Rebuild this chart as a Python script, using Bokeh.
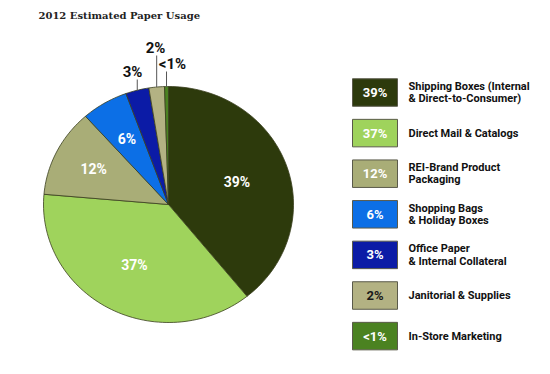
import numpy as np
from bokeh.plotting import figure
from bokeh.models import Range1d
from bokeh.embed import file_html
from bokeh.resources import INLINE
from bokeh.core.properties import value

# ---- data ----
categories = [
    "Shipping Boxes (Internal\n& Direct-to-Consumer)",
    "Direct Mail & Catalogs",
    "REI-Brand Product\nPackaging",
    "Shopping Bags\n& Holiday Boxes",
    "Office Paper\n& Internal Collateral",
    "Janitorial & Supplies",
    "In-Store Marketing",
]
shares = [39, 37, 12, 6, 3, 2, 0.5]
share_labels = ["39%", "37%", "12%", "6%", "3%", "2%", "<1%"]
colors = ["#2d3a0c", "#9fd35c", "#a9ad77", "#0c6fe6", "#0b1ba6", "#b3b283", "#4b8221"]
box_text_colors = ["white", "white", "white", "white", "white", "#1a1a1a", "white"]
title = "2012 Estimated Paper Usage"

W, H = 534, 358
p = figure(width=W, height=H, output_backend="svg", toolbar_location=None,
           x_range=Range1d(0, W), y_range=Range1d(H, 0),
           min_border=0, background_fill_color="white", border_fill_color="white")
p.axis.visible = False
p.grid.visible = False
p.outline_line_color = None

# ---- pie (slightly elliptical as in reference) ----
cx, cy, rx, ry = 168, 204, 125, 118
total = sum(shares)
start = np.pi / 2
xs, ys, mids = [], [], []
for s in shares:
    sweep = 2 * np.pi * s / total
    a = np.linspace(start, start - sweep, max(4, int(200 * s / total) + 4))
    xs.append([cx] + list(cx + rx * np.cos(a)))
    ys.append([cy] + list(cy - ry * np.sin(a)))
    mids.append(start - sweep / 2)
    start -= sweep
p.patches(xs, ys, fill_color=colors, line_color="#3a3f1e", line_width=0.8)

# inside labels
inside_r = [0.58, 0.58, 0.67, 0.65]
lx = [cx + rx * f * np.cos(m) for f, m in zip(inside_r, mids[:4])]
ly = [cy - ry * f * np.sin(m) for f, m in zip(inside_r, mids[:4])]
p.text(lx, ly, text=share_labels[:4], text_color="white", text_font=value("Roboto"),
       text_font_style="bold", text_font_size="14px", text_align="center",
       text_baseline="middle")

# outside labels with leader lines
out_idx = [4, 5, 6]
for i, (tx, ty) in zip(out_idx, [(132, 71), (155, 47), (172, 63)]):
    m = mids[i]
    ex = cx + rx * np.cos(m)
    ey = cy - ry * np.sin(m)
    p.line([ex, ex], [ey, ty + 8], line_color="#555555", line_width=1)
    p.text([tx], [ty], text=[share_labels[i]], text_color="#111111",
           text_font=value("Roboto"), text_font_style="bold", text_font_size="15px",
           text_align="center", text_baseline="middle")

# title
p.text([38], [15], text=[title], text_font=value("DejaVu Serif"), text_font_style="bold",
       text_font_size="10px", text_color="#222222", text_baseline="middle")

# ---- legend ----
n = len(categories)
by = [92 + 40.6 * k for k in range(n)]
bx = [374.5] * n
p.rect(bx, by, width=45, height=27.5, fill_color=colors, line_color="#5a5a4a",
       line_width=1)
p.text(bx, by, text=share_labels, text_color=box_text_colors, text_font=value("Roboto"),
       text_font_style="bold", text_font_size="13px", text_align="center",
       text_baseline="middle")
p.text([408] * n, by, text=categories, text_color="#111111", text_font=value("Roboto"),
       text_font_style="bold", text_font_size="11px", text_align="left",
       text_baseline="middle", text_line_height=0.95)

open("out.html", "w").write(file_html(p, INLINE))
